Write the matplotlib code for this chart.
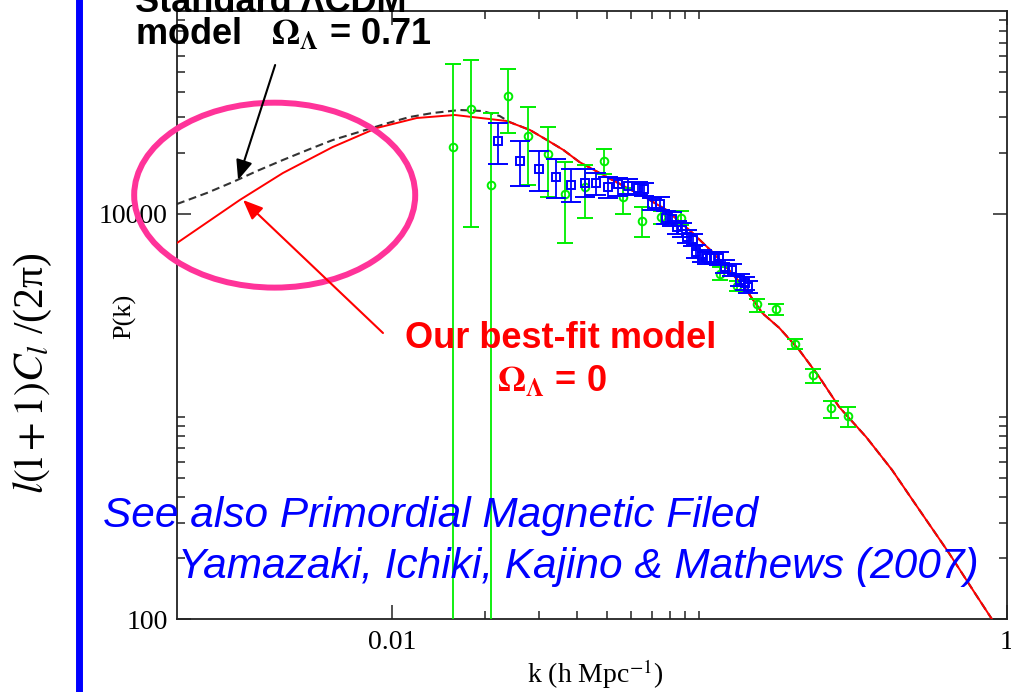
import matplotlib
matplotlib.use("Agg")
import matplotlib.pyplot as plt
import numpy as np
from matplotlib.patches import Ellipse
from matplotlib.lines import Line2D
from matplotlib.ticker import FixedLocator, FixedFormatter, NullFormatter

plt.rcParams["font.family"] = ["Liberation Serif", "DejaVu Serif"]
plt.rcParams["mathtext.fontset"] = "stix"

# best-fit model (Omega_Lambda = 0), P(k) vs k
best_k = [0.0020, 0.0032, 0.00442, 0.00642, 0.00893, 0.01204, 0.0160, 0.0236,
          0.0281, 0.0319, 0.0361, 0.0407, 0.0521, 0.0672, 0.0781, 0.0927,
          0.1101, 0.1223, 0.1420, 0.1601, 0.1817, 0.2110, 0.2450, 0.2846,
          0.3484, 0.4230, 0.4878, 0.648, 0.793, 0.894, 1.0]
best_pk = [7185, 11710, 15910, 21380, 26540, 29720, 30760, 28730,
           25940, 23150, 20670, 18030, 14700, 11980, 10450, 8330,
           6490, 5470, 4210, 3240, 2740, 2130, 1570, 1115,
           793, 545, 397, 212, 132, 100, 76]

# standard LCDM (Omega_Lambda = 0.71); same as best fit above k ~ 0.028
lcdm_k = [0.0020, 0.0025, 0.00304, 0.00364, 0.00442, 0.00541, 0.00642, 0.00787,
          0.00962, 0.01142, 0.01357, 0.0166, 0.0197, 0.0224, 0.0241] + best_k[8:]
lcdm_pk = [11190, 12680, 14370, 16280, 18450, 20900, 23150, 25440,
           27960, 30060, 31460, 32550, 32190, 30410, 28400] + best_pk[8:]

# green data set (circles): value, lower and upper ends of the error bar
green_k = [0.01574, 0.01807, 0.02092, 0.02393, 0.02770, 0.03205, 0.03667, 0.04244,
           0.04875, 0.05654, 0.06503, 0.07499, 0.0871, 0.1167, 0.1325, 0.1535,
           0.1774, 0.2046, 0.2346, 0.2679, 0.3049]
green_pk = [21500, 33110, 13810, 38160, 24230, 19640, 12540, 13570,
            18240, 12050, 9226, 9654, 9545, 5052, 4410, 3581,
            3383, 2274, 1604, 1099, 1007]
green_hi = [55200, 57430, 31640, 51850, 33870, 26930, 17930, 17430,
            21020, 13420, 10780, 10330, 10370, 5470, 4667, 3791,
            3581, 2406, 1712, 1198, 1111]
green_lo = [10, 8570, 10, 24990, 13960, 12160, 7160, 9513,
            15730, 9990, 7649, 8917, 8767, 4720, 4166, 3270,
            3171, 2148, 1460, 981, 892]

# blue data set (squares)
blue_k = [0.02218, 0.02599, 0.03013, 0.03416, 0.03822, 0.04228, 0.04609, 0.05030,
          0.05446, 0.05857, 0.06312, 0.06602, 0.06983, 0.07468, 0.07781, 0.08141,
          0.08453, 0.08776, 0.09078, 0.09530, 0.09710, 0.1019, 0.1058, 0.1115,
          0.1158, 0.1211, 0.1273, 0.1355, 0.1406, 0.1443]
blue_pk = [22970, 18200, 16690, 15260, 13920, 14210, 14250, 13570,
           14000, 13730, 13350, 13200, 11170, 11250, 9599, 9436,
           8570, 8330, 7735, 7433, 6501, 6199, 6059, 6039,
           6030, 5490, 5287, 4720, 4536, 4360]
blue_hi = [28180, 22970, 20360, 18700, 16600, 16600, 15910, 15210,
           15040, 14870, 14370, 14210, 11980, 12120, 10330, 10220,
           9226, 9018, 8330, 7958, 7025, 6637, 6486, 6486,
           6486, 5925, 5659, 5052, 4883, 4667]
blue_lo = [17570, 13780, 12970, 11950, 11470, 12120, 12400, 11980,
           12260, 12540, 12400, 12260, 10450, 10450, 8917, 8716,
           7958, 7691, 7185, 6944, 6059, 5789, 5659, 5659,
           5596, 5110, 4939, 4410, 4213, 4073]

x_major = [0.01, 1]
x_major_labels = ["0.01", "1"]
x_minor = [0.02, 0.03, 0.04, 0.05, 0.06, 0.07, 0.08, 0.09, 0.1]
y_major = [100, 10000]
y_major_labels = ["100", "10000"]
y_minor = [200, 300, 400, 500, 600, 700, 800, 900, 1000,
           20000, 30000, 40000, 50000, 60000, 70000, 80000, 90000]

W, H = 1012, 692
fig = plt.figure(figsize=(W / 100, H / 100), dpi=100)
ax = fig.add_axes([177 / W, (H - 619.3) / H, 830 / W, 608.1 / H])
ax.set_xscale("log")
ax.set_yscale("log")
ax.set_xlim(0.002, 1)
ax.set_ylim(100, 1e5)

# model curves
ax.plot(lcdm_k, lcdm_pk, color="#333333", lw=1.5, dashes=(3.8, 2.2), zorder=2)
ax.plot(best_k, best_pk, color="#ff0000", lw=1.4, zorder=3)

def draw_points(k, pk, lo, hi, color, marker, size, cap, z):
    pk = np.asarray(pk, float)
    err = [pk - np.asarray(lo, float), np.asarray(hi, float) - pk]
    ax.errorbar(k, pk, yerr=err, fmt=marker, color=color, mfc="none", mec=color,
                ms=size, mew=1.4, elinewidth=1.3, capsize=cap, capthick=1.4,
                zorder=z)

draw_points(green_k, green_pk, green_lo, green_hi, "#00ee00", "o", 5.5, 6, 4)
draw_points(blue_k, blue_pk, blue_lo, blue_hi, "#0000ff", "s", 5.5, 7, 5)

# ticks and frame
ax.xaxis.set_major_locator(FixedLocator(x_major))
ax.xaxis.set_major_formatter(FixedFormatter(x_major_labels))
ax.xaxis.set_minor_locator(FixedLocator(x_minor))
ax.xaxis.set_minor_formatter(NullFormatter())
ax.yaxis.set_major_locator(FixedLocator(y_major))
ax.yaxis.set_major_formatter(FixedFormatter(y_major_labels))
ax.yaxis.set_minor_locator(FixedLocator(y_minor))
ax.yaxis.set_minor_formatter(NullFormatter())
ax.tick_params(which="both", direction="in", top=True, right=True,
               width=1.1, labelsize=20, color="#222222")
ax.tick_params(which="major", length=10)
ax.tick_params(which="minor", length=5.5)
ax.tick_params(axis="y", pad=6.5)
ax.tick_params(axis="x", pad=8)
for s in ax.spines.values():
    s.set_linewidth(1.3)
    s.set_color("#222222")

# annotations
ax.add_patch(Ellipse((0.1177, 0.6975), 0.3386, 0.3041, transform=ax.transAxes,
                     fill=False, ec="#ff3399", lw=4.3, clip_on=False, zorder=6))
head = "-|>,head_length=0.6,head_width=0.25"
ax.annotate("", xy=(0.00316, 14700), xytext=(0.00417, 54270),
            arrowprops=dict(arrowstyle=head, color="black", lw=1.5,
                            mutation_scale=20, shrinkA=0, shrinkB=0),
            annotation_clip=False, zorder=7)
ax.annotate("", xy=(0.00328, 11710), xytext=(0.00935, 2585),
            arrowprops=dict(arrowstyle=head, color="#ff0000", lw=1.5,
                            mutation_scale=20, shrinkA=0, shrinkB=0),
            annotation_clip=False, zorder=7)

bold = dict(family=["Liberation Sans", "DejaVu Sans"], weight="bold", size=26,
            va="baseline")
fig.text(135 / W, 1 - 12 / H, "Standard ΛCDM", color="black", **bold)
fig.text(135 / W, 1 - 45 / H, r"model   $\mathbf{\Omega_\Lambda}$ = 0.71",
         color="black", **bold)
fig.text(405 / W, 1 - 348 / H, "Our best-fit model", color="#ff0000", **bold)
fig.text(497 / W, 1 - 392 / H, r"$\mathbf{\Omega_\Lambda}$ = 0",
         color="#ff0000", **bold)

ital = dict(family=["Liberation Sans", "DejaVu Sans"], style="italic", size=30.5,
            color="#0000ff", va="baseline")
fig.text(103 / W, 1 - 527 / H, "See also Primordial Magnetic Filed", **ital)
fig.text(178 / W, 1 - 578 / H, "Yamazaki, Ichiki, Kajino & Mathews (2007)", **ital)

# axis labels
fig.text(595 / W, 1 - 683 / H, r"k (h Mpc$^{-1}$)", ha="center", va="baseline",
         size=20)
fig.text(125 / W, 1 - 316 / H, "P(k)", rotation=90, ha="center", va="center",
         size=19)
fig.text(33 / W, 1 - 373 / H, r"$l(\mathrm{l}+1)C_l$ /(2π)", rotation=90,
         ha="center", va="center", size=30)

# blue rule at the left
fig.add_artist(Line2D([79 / W, 79 / W], [0, 1], transform=fig.transFigure,
                      color="#0000ff", lw=5))

fig.savefig("out.png", dpi=100)
